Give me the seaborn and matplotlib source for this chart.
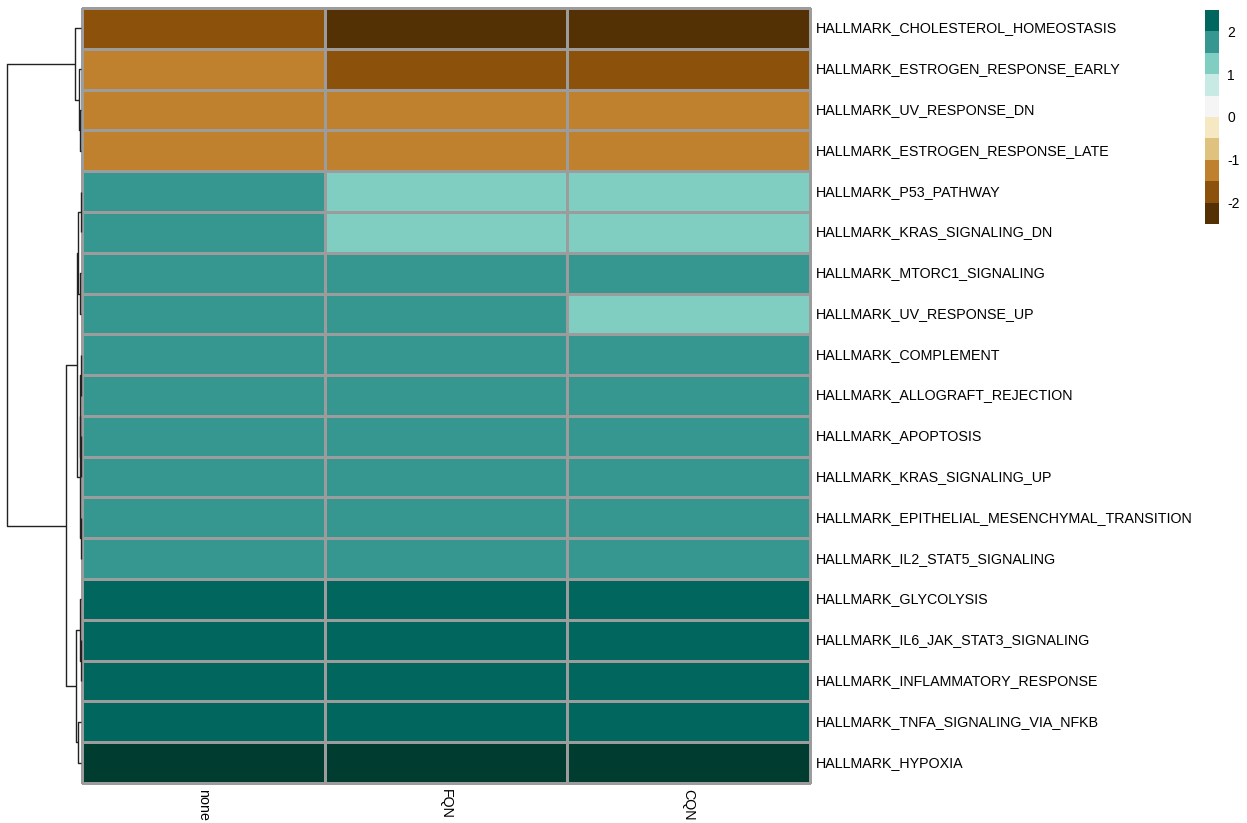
import numpy as np
import pandas as pd
import matplotlib
matplotlib.use("Agg")
import matplotlib.pyplot as plt
from matplotlib.colors import ListedColormap, Normalize
from matplotlib.cm import ScalarMappable
import seaborn as sns

# ---------------- data ----------------
pathways = [
    "HALLMARK_CHOLESTEROL_HOMEOSTASIS",
    "HALLMARK_ESTROGEN_RESPONSE_EARLY",
    "HALLMARK_UV_RESPONSE_DN",
    "HALLMARK_ESTROGEN_RESPONSE_LATE",
    "HALLMARK_P53_PATHWAY",
    "HALLMARK_KRAS_SIGNALING_DN",
    "HALLMARK_MTORC1_SIGNALING",
    "HALLMARK_UV_RESPONSE_UP",
    "HALLMARK_COMPLEMENT",
    "HALLMARK_ALLOGRAFT_REJECTION",
    "HALLMARK_APOPTOSIS",
    "HALLMARK_KRAS_SIGNALING_UP",
    "HALLMARK_EPITHELIAL_MESENCHYMAL_TRANSITION",
    "HALLMARK_IL2_STAT5_SIGNALING",
    "HALLMARK_GLYCOLYSIS",
    "HALLMARK_IL6_JAK_STAT3_SIGNALING",
    "HALLMARK_INFLAMMATORY_RESPONSE",
    "HALLMARK_TNFA_SIGNALING_VIA_NFKB",
    "HALLMARK_HYPOXIA",
]
methods = ["none", "FQN", "CQN"]

none_vals = [-1.75, -1.30, -1.25, -1.25, 1.60, 1.60, 1.70, 1.65, 1.80, 1.80,
             1.80, 1.80, 1.80, 1.80, 2.20, 2.20, 2.20, 2.20, 2.70]
fqn_vals = [-2.20, -1.80, -1.30, -1.30, 1.40, 1.40, 1.60, 1.55, 1.80, 1.80,
            1.80, 1.80, 1.80, 1.80, 2.20, 2.20, 2.20, 2.20, 2.70]
cqn_vals = [-2.25, -1.75, -1.30, -1.28, 1.40, 1.40, 1.70, 1.45, 1.80, 1.80,
            1.80, 1.80, 1.80, 1.80, 2.20, 2.20, 2.20, 2.20, 2.70]

# row dendrogram (leaf indices in display order; new clusters numbered from 19)
link_left = [2, 1, 0, 4, 6, 22, 8, 10, 25, 12, 27, 24, 15, 14, 17, 32, 30, 21]
link_right = [3, 19, 20, 5, 7, 23, 9, 11, 26, 13, 28, 29, 16, 31, 18, 33, 34, 35]
link_height = [0.10, 0.25, 0.60, 0.05, 0.15, 0.30, 0.05, 0.05, 0.10, 0.05,
               0.15, 0.40, 0.05, 0.10, 0.30, 0.50, 1.50, 7.50]

legend_ticks = [-2, -1, 0, 1, 2]

palette = ["#543005", "#8C510A", "#BF812D", "#DFC27D", "#F6E8C3", "#F5F5F5",
           "#C7EAE5", "#80CDC1", "#35978F", "#01665E", "#003C30"]

# ---------------- styling ----------------
sns.set_theme(style="white")
plt.rcParams["font.family"] = ["Liberation Sans", "DejaVu Sans"]
plt.rcParams["axes.unicode_minus"] = False
plt.rcParams["text.color"] = "black"
plt.rcParams["xtick.color"] = "black"
plt.rcParams["ytick.color"] = "black"

W, H = 1247, 823
fig = plt.figure(figsize=(W / 100, H / 100), dpi=100)


def px(l, t, w, h):
    return [l / W, 1 - (t + h) / H, w / W, h / H]


df = pd.DataFrame({"none": none_vals, "FQN": fqn_vals, "CQN": cqn_vals},
                  index=pathways)[methods]

ax = fig.add_axes(px(82, 8, 728, 775))
sns.heatmap(df, ax=ax, cmap=ListedColormap(palette), vmin=-2.5, vmax=3.0,
            cbar=False, linewidths=0.75, linecolor="#9c9c9c",
            xticklabels=methods, yticklabels=pathways)
ax.collections[0].set_clip_on(False)
ax.yaxis.set_ticks_position("right")
ax.tick_params(axis="y", length=0, pad=4, labelsize=10.3, labelright=True,
               labelleft=False, labelcolor="black")
ax.tick_params(axis="x", length=0, pad=4, labelsize=10.3, labelcolor="black")
plt.setp(ax.get_yticklabels(), rotation=0, va="center")
plt.setp(ax.get_xticklabels(), rotation=270, ha="center", va="top")
ax.set_xlabel("")
ax.set_ylabel("")

# ---------------- dendrogram ----------------
dax = fig.add_axes(px(7, 8, 74, 775))
n = len(pathways)
pos = {i: i + 0.5 for i in range(n)}
hgt = {i: 0.0 for i in range(n)}
for k, (a, b, h) in enumerate(zip(link_left, link_right, link_height)):
    cid = n + k
    ya, yb = pos[a], pos[b]
    dax.plot([hgt[a], h, h, hgt[b]], [ya, ya, yb, yb], color="#222222",
             lw=1.0, clip_on=False, solid_capstyle="butt")
    pos[cid] = (ya + yb) / 2
    hgt[cid] = h
dax.set_xlim(max(link_height), 0)
dax.set_ylim(n, 0)
dax.axis("off")

# ---------------- legend ----------------
cax = fig.add_axes(px(1205, 10, 14, 214))
sm = ScalarMappable(norm=Normalize(-2.5, 2.5), cmap=ListedColormap(palette[:10]))
cb = fig.colorbar(sm, cax=cax, ticks=legend_ticks)
cb.outline.set_visible(False)
cax.tick_params(length=0, pad=6, labelsize=10, labelcolor="black")

fig.savefig("out.png", dpi=100)
